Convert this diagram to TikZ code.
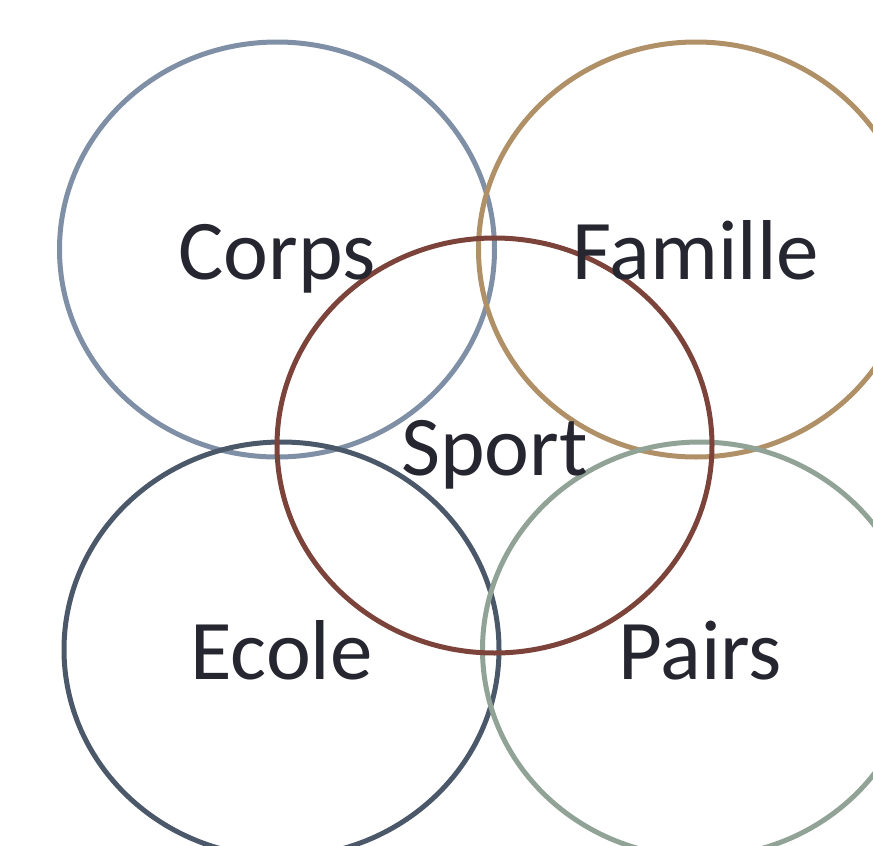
\documentclass[tikz,border=0pt]{standalone}
\usepackage{fontspec}
\setmainfont{Carlito}
\usepackage{tikz}
\usetikzlibrary{shapes.geometric}
\definecolor{corpscol}{RGB}{127,143,166}
\definecolor{famillecol}{RGB}{176,144,102}
\definecolor{sportcol}{RGB}{123,67,57}
\definecolor{ecolecol}{RGB}{75,88,105}
\definecolor{pairscol}{RGB}{145,163,150}
\definecolor{txtcol}{RGB}{38,38,48}

\begin{document}
\begin{tikzpicture}[x=1pt,y=-1pt,
    ring/.style={ellipse, draw=#1, line width=5pt, inner sep=0pt,
        minimum width=435pt, minimum height=415pt},
    lbl/.style={anchor=base, inner sep=0pt, text=txtcol,
        font=\fontsize{85}{100}\selectfont}]
    \useasboundingbox (0,0) rectangle (873,846);
    % the five circles
    \node[ring=corpscol] (corps) at (277,249.5) {};
    \node[ring=famillecol] (famille) at (696,249.5) {};
    \node[ring=ecolecol] (ecole) at (281.5,649.5) {};
    \node[ring=pairscol] (pairs) at (700,649.5) {};
    \node[ring=sportcol] (sport) at (494.5,445.5) {};
    % the labels
    \node[lbl] (corpstxt) at ([yshift=-29.5pt]corps.center) {Corps};
    \node[lbl] (familletxt) at ([yshift=-29.5pt]famille.center) {Famille};
    \node[lbl] (ecoletxt) at ([yshift=-29.5pt]ecole.center) {Ecole};
    \node[lbl] (pairstxt) at ([yshift=-29.5pt]pairs.center) {Pairs};
    \node[lbl] (sporttxt) at ([yshift=-29.5pt]sport.center) {Sport};
\end{tikzpicture}
\end{document}
